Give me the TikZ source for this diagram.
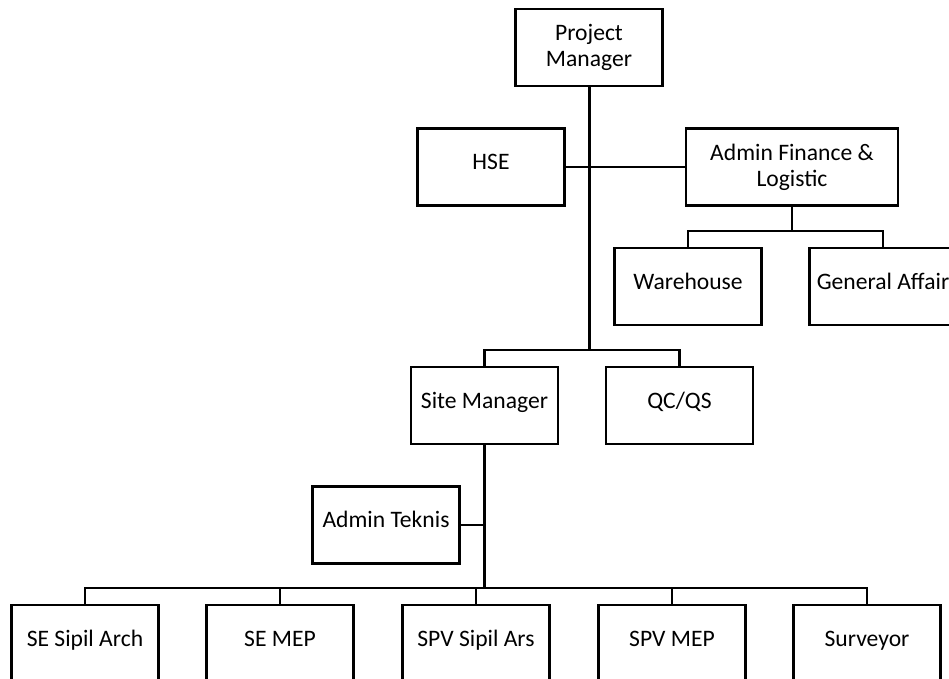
\documentclass[tikz,border=0pt]{standalone}
\usepackage{fontspec}
\setmainfont{Carlito}
\usepackage{tikz}
\usetikzlibrary{positioning, calc}

\newcommand{\orgfont}{\fontsize{11.8pt}{13pt}\selectfont}
\tikzset{
  orgbox/.style={draw, line width=1.1pt, minimum width=73.5pt, minimum height=38.5pt, inner sep=2pt, align=center, font=\orgfont},
  onebox/.style={orgbox, text height=0.7em, text depth=0.42em},
  trunk/.style={line width=1.5pt},
  link/.style={line width=1.1pt}
}

\begin{document}
\begin{tikzpicture}[x=0.5pt, y=-0.5pt]
  \useasboundingbox (0,0) rectangle (949,679);

  % top level
  \node[orgbox] (pm) at (589,47.5) {Project\\Manager};
  \node[onebox] (hse) at (491,167) {HSE};
  \node[orgbox, minimum width=106pt] (afl) at (792,167) {Admin Finance \&\\Logistic};
  \node[onebox] (wh) at (688,286.5) {Warehouse};
  \node[onebox] (ga) at (883,286.5) {General Affair};

  % site level
  \node[onebox] (sm) at (484.5,405.5) {Site Manager};
  \node[onebox] (qc) at (679.5,405.5) {QC/QS};
  \node[onebox] (at) at (386,525) {Admin Teknis};

  % bottom row
  \foreach \i/\t/\x in {1/SE Sipil Arch/85, 2/SE MEP/280, 3/SPV Sipil Ars/476, 4/SPV MEP/672, 5/Surveyor/867}
    \node[onebox] (b\i) at (\x,643.5) {\t};

  \coordinate (j1) at (589,350);
  \coordinate (j2) at (792,231);
  \coordinate (j3) at (484.5,588);

  \draw[trunk] (pm.south) -- (j1);
  \draw[link] (hse.east) -- (afl.west);
  \draw[link] (afl.south) -- (j2);
  \draw[link] (wh.north) |- (j2) -| (ga.north);
  \draw[link] (sm.north) |- (j1) -| (qc.north);

  \draw[trunk] (sm.south) -- (j3);
  \draw[link] (at.east) -- (at.east -| sm.south);
  \draw[link] (b1.north) |- (j3) -| (b5.north);
  \foreach \i in {2,3,4}
    \draw[link] (b\i.north) -- (b\i.north |- j3);
\end{tikzpicture}
\end{document}
